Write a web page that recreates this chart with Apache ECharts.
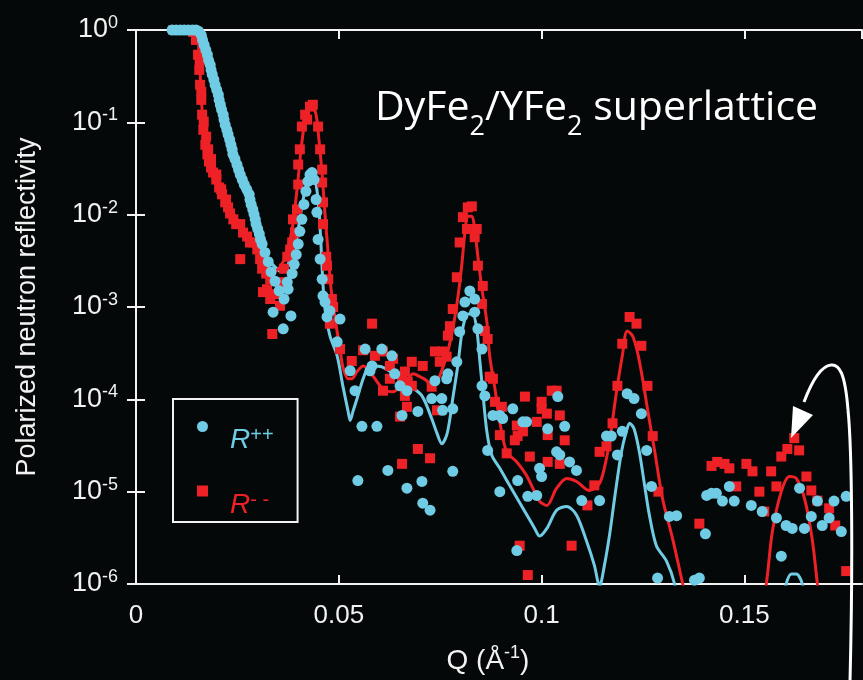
<!DOCTYPE html>
<html><head><meta charset="utf-8">
<script src="https://cdn.jsdelivr.net/npm/echarts@6/dist/echarts.min.js"></script>
<style>html,body{margin:0;padding:0;background:#050808;}#c{width:863px;height:680px;}</style>
</head><body><div id="c"></div>
<script>
// ---- data: R++ (circles) ----
const ppQ = [0.0089,0.0099,0.0109,0.0119,0.0129,0.0139,0.0148,0.0154,0.0161,0.0168,0.0176,0.0183,0.0188,0.0195,0.0203,0.0208,0.0215,0.0220,0.0227,0.0234,0.0239,0.0249,0.0257,0.0267,0.0279,0.0284,0.0291,0.0296,0.0304,0.0311,0.0318,0.0326,0.0333,0.0338,0.0343,0.0353,0.0363,0.0365,0.0373,0.0375,0.0382,0.0385,0.0390,0.0395,0.0400,0.0404,0.0409,0.0414,0.0419,0.0424,0.0429,0.0434,0.0439,0.0444,0.0446,0.0449,0.0454,0.0459,0.0461,0.0466,0.0471,0.0478,0.0496,0.0503,0.0528,0.0540,0.0547,0.0557,0.0565,0.0577,0.0582,0.0594,0.0606,0.0621,0.0631,0.0638,0.0651,0.0656,0.0668,0.0668,0.0695,0.0705,0.0707,0.0725,0.0729,0.0737,0.0754,0.0756,0.0766,0.0769,0.0781,0.0781,0.0791,0.0798,0.0806,0.0811,0.0823,0.0835,0.0835,0.0843,0.0853,0.0853,0.0860,0.0867,0.0880,0.0897,0.0897,0.0904,0.0929,0.0939,0.0941,0.0954,0.0963,0.0966,0.0988,0.0995,0.1000,0.1015,0.1037,0.1040,0.1045,0.1057,0.1069,0.1086,0.1099,0.1143,0.1160,0.1172,0.1187,0.1199,0.1211,0.1228,0.1246,0.1259,0.1271,0.1286,0.1315,0.1333,0.1377,0.1389,0.1404,0.1407,0.1419,0.1431,0.1446,0.1463,0.1475,0.1517,0.1544,0.1579,0.1591,0.1603,0.1618,0.1636,0.1648,0.1665,0.1680,0.1692,0.1709,0.1721,0.1739,0.1751,
  0.0164,0.0172,0.0179,0.0185,0.0192,0.0199,0.0205,0.0211,0.0217,0.0224,0.0231,0.0237,0.0244,0.0253,0.0262,0.0273,0.0281,0.0288,0.0294,0.0300,0.0307];
const ppR = [1,1,1,1,1,1,1,0.97,0.88,0.69,0.54,0.42,0.33,0.255,0.199,0.155,0.121,0.094,0.074,0.0574,0.045,0.0349,0.0272,0.0212,0.0166,0.0129,0.0101,0.0079,0.0062,0.0048,0.0039,0.0031,0.0024,0.00088,0.0019,0.0015,0.00058,0.00122,0.00186,0.00156,0.0008,0.0023,0.0029,0.0037,0.0048,0.0066,0.0089,0.0129,0.0179,0.0229,0.0272,0.0286,0.024,0.0146,0.0106,0.0054,0.0033,0.0020,0.00132,0.00113,0.00078,0.00091,0.00042,0.00074,0.000204,0.000124,1.32e-5,5.1e-5,0.00035,0.000204,0.00023,5.1e-5,0.00035,1.7e-5,0.000296,0.000189,0.00014,6.7e-5,1.09e-5,0.000124,7.4e-5,1.29e-5,7.5e-6,6.3e-6,0.000102,0.000159,0.000102,7.6e-5,0.000167,0.000189,7.9e-5,1.66e-5,0.000255,0.00054,0.0008,0.00113,0.00149,0.00122,0.00088,0.00058,0.00035,0.00014,0.000109,2.8e-5,6.7e-5,6.7e-5,1.0e-5,6.2e-5,7.9e-5,2.3e-6,1.32e-5,5.7e-5,5.7e-5,8.9e-6,9.1e-6,1.79e-5,1.46e-5,4.8e-5,2.7e-5,0.000107,2.5e-5,5.1e-5,2.1e-5,1.7e-5,8.0e-6,8.0e-6,4.0e-5,4.0e-5,2.5e-5,4.5e-5,0.000115,0.000102,7.0e-5,2.8e-5,1.14e-5,1.16e-6,5.4e-6,5.5e-6,1.1e-6,1.16e-6,3.5e-6,9.1e-6,9.6e-6,9.6e-6,7.9e-6,1.14e-5,7.9e-6,7.1e-6,6.1e-6,5.2e-6,2.0e-6,4.3e-6,4.0e-6,1.09e-5,4.0e-6,5.4e-6,7.9e-6,4.3e-6,5.2e-6,7.9e-6,3.7e-6,8.9e-6,
  0.78,0.61,0.47,0.37,0.29,0.225,0.175,0.137,0.107,0.083,0.065,0.051,0.040,0.0308,0.024,0.0188,0.0146,0.0114,0.0089,0.0070,0.0054];
// ---- data: R-- (squares) ----
const mmQ = [0.0092,0.0102,0.0112,0.0121,0.0131,0.0141,0.0148,0.0153,0.0156,0.0158,0.0161,0.0163,0.0166,0.0171,0.0176,0.0180,0.0185,0.0190,0.0198,0.0205,0.0212,0.0220,0.0227,0.0232,0.0240,0.0247,0.0257,0.0257,0.0264,0.0274,0.0281,0.0289,0.0299,0.0306,0.0311,0.0313,0.0321,0.0323,0.0331,0.0331,0.0336,0.0345,0.0355,0.0355,0.0365,0.0373,0.0380,0.0385,0.0387,0.0392,0.0397,0.0400,0.0400,0.0404,0.0409,0.0417,0.0422,0.0429,0.0436,0.0449,0.0454,0.0459,0.0459,0.0461,0.0461,0.0469,0.0471,0.0474,0.0478,0.0483,0.0486,0.0503,0.0532,0.0560,0.0582,0.0589,0.0609,0.0609,0.0626,0.0626,0.0634,0.0651,0.0656,0.0656,0.0663,0.0663,0.0668,0.0670,0.0680,0.0680,0.0695,0.0707,0.0725,0.0729,0.0737,0.0742,0.0749,0.0756,0.0766,0.0769,0.0774,0.0781,0.0791,0.0798,0.0806,0.0816,0.0818,0.0828,0.0835,0.0840,0.0843,0.0853,0.0855,0.0860,0.0867,0.0872,0.0880,0.0885,0.0897,0.0902,0.0914,0.0934,0.0939,0.0941,0.0946,0.0954,0.0959,0.0966,0.0971,0.0988,0.1000,0.1000,0.1013,0.1015,0.1015,0.1025,0.1037,0.1045,0.1045,0.1057,0.1074,0.1113,0.1130,0.1143,0.1160,0.1175,0.1187,0.1199,0.1217,0.1234,0.1246,0.1261,0.1274,0.1288,0.1389,0.1419,0.1433,0.1451,0.1463,0.1480,0.1505,0.1520,0.1537,0.1549,0.1566,0.1579,0.1591,0.1606,0.1623,0.1635,0.1653,0.1665,0.1680,0.1709,0.1724,0.1751,
  0.0157,0.0161,0.0167,0.0173,0.0178,0.0185,0.0198,0.0210,0.0222];
const mmR = [1,1,1,1,1,0.95,0.78,0.54,0.37,0.255,0.175,0.121,0.083,0.057,0.045,0.0376,0.0324,0.0286,0.024,0.0197,0.0166,0.0136,0.0120,0.0103,0.0089,0.0079,0.0079,0.0033,0.0064,0.0058,0.0050,0.0050,0.0042,0.0033,0.0026,0.00145,0.0023,0.00156,0.0020,0.00122,0.00051,0.00138,0.00186,0.00103,0.0026,0.0035,0.0042,0.0050,0.0089,0.0064,0.0114,0.0212,0.0349,0.051,0.090,0.121,0.107,0.148,0.155,0.090,0.051,0.0308,0.0223,0.0136,0.0079,0.0035,0.0028,0.0020,0.00066,0.00122,0.0010,0.00035,0.00026,0.00034,0.00066,0.000296,0.00033,0.000124,0.00023,0.000167,0.000275,6.5e-5,0.000167,2.0e-5,0.0002,0.000109,8.3e-5,0.000155,0.000255,0.00014,2.9e-5,0.00023,2.3e-5,0.000137,0.00033,7.6e-5,0.000255,0.00033,0.00029,0.00049,0.00062,0.00095,0.0021,0.0050,0.0094,0.0070,0.0120,0.0123,0.0057,0.0070,0.0028,0.00108,0.00169,0.00055,0.00045,0.000176,0.000167,9.4e-5,4.1e-5,8.3e-5,2.6e-5,3.6e-5,5.2e-5,4.0e-5,2.6e-6,4.5e-5,0.000107,1.25e-6,2.4e-5,5.7e-5,9.4e-5,7.9e-5,7.0e-5,4.1e-5,2.1e-5,0.000124,0.000124,6.7e-5,2.0e-5,3.6e-5,2.6e-6,7.1e-6,1.17e-5,2.7e-5,3.1e-5,5.5e-5,0.00014,0.0004,0.00078,0.00066,0.00038,0.00014,4.0e-5,1.0e-5,4.5e-6,1.9e-5,2.1e-5,2.0e-5,1.79e-5,1.14e-5,2.0e-5,1.66e-5,1.0e-5,6.1e-6,1.66e-5,1.14e-5,2.4e-5,2.9e-5,3.8e-5,2.8e-5,1.46e-5,1.03e-5,8.0e-6,6.6e-6,4.3e-6,1.38e-6,
  0.47,0.214,0.102,0.070,0.051,0.040,0.0272,0.0188,0.0146];
// ---- fitted curves ----
const fitPPQ = [0.0097,0.0156,0.0176,0.0195,0.0210,0.0230,0.0252,0.0276,0.0289,0.0304,0.0318,0.0343,0.0360,0.0375,0.0390,0.0402,0.0412,0.0422,0.0429,0.0436,0.0444,0.0451,0.0456,0.0461,0.0466,0.0478,0.0496,0.0510,0.0523,0.0528,0.0535,0.0545,0.0560,0.0572,0.0584,0.0606,0.0643,0.0675,0.0705,0.0729,0.0742,0.0754,0.0766,0.0774,0.0781,0.0793,0.0803,0.0811,0.0818,0.0830,0.0840,0.0848,0.0855,0.0865,0.0877,0.0897,0.0921,0.0954,0.0983,0.0995,0.1013,0.1037,0.1062,0.1086,0.1111,0.1130,0.1143,0.1155,0.1168,0.1180,0.1197,0.1209,0.1217,0.1228,0.1241,0.1254,0.1266,0.1283,0.1308,0.1328,0.1340,0.1500,0.1586,0.1603,0.1616,0.1628,0.1643,0.1655,0.1790];
const fitPPR = [1.0,1.0,0.54,0.255,0.137,0.065,0.0324,0.0179,0.0109,0.0060,0.0037,0.0027,0.0024,0.0029,0.0042,0.0079,0.0146,0.0212,0.0253,0.0265,0.0212,0.0114,0.0048,0.00177,0.00095,0.00049,0.000296,0.00014,7.4e-5,5.9e-5,7.4e-5,0.000102,0.000167,0.00022,0.00023,0.000225,0.00018,0.00014,0.000109,6.2e-5,4.3e-5,3.3e-5,4.1e-5,6.2e-5,0.000102,0.000225,0.00051,0.00074,0.00084,0.00084,0.00058,0.000255,0.000121,4.5e-5,2.5e-5,1.79e-5,1.17e-5,6.6e-6,4.0e-6,3.3e-6,4.0e-6,6.3e-6,6.9e-6,5.6e-6,2.9e-6,1.6e-6,0.95e-6,1.6e-6,3.5e-6,8.5e-6,2.7e-5,4.5e-5,5.5e-5,4.8e-5,2.7e-5,1.17e-5,5.5e-6,2.6e-6,1.77e-6,1.0e-6,4.3e-7,1e-8,4.3e-7,1.0e-6,1.28e-6,1.28e-6,1.0e-6,4.3e-7,1e-8];
const fitMMQ = [0.0097,0.0146,0.0156,0.0163,0.0171,0.0183,0.0203,0.0227,0.0257,0.0281,0.0301,0.0313,0.0326,0.0338,0.0355,0.0370,0.0385,0.0397,0.0407,0.0417,0.0427,0.0434,0.0444,0.0451,0.0459,0.0466,0.0474,0.0481,0.0491,0.0503,0.0510,0.0523,0.0532,0.0545,0.0560,0.0572,0.0584,0.0609,0.0634,0.0651,0.0668,0.0683,0.0700,0.0717,0.0729,0.0739,0.0749,0.0766,0.0781,0.0793,0.0803,0.0811,0.0818,0.0828,0.0835,0.0843,0.0853,0.0865,0.0872,0.0885,0.0897,0.0914,0.0939,0.0963,0.0995,0.1013,0.1037,0.1062,0.1086,0.1118,0.1143,0.1160,0.1172,0.1184,0.1199,0.1211,0.1224,0.1236,0.1249,0.1261,0.1278,0.1298,0.1323,0.1348,0.1366,0.1480,0.1537,0.1554,0.1569,0.1591,0.1611,0.1628,0.1648,0.1667,0.1680,0.1689,0.1790];
const fitMMR = [1.0,1.0,0.47,0.137,0.065,0.040,0.024,0.0129,0.0079,0.0054,0.0042,0.0033,0.0027,0.0024,0.0027,0.0037,0.0070,0.0188,0.051,0.107,0.144,0.151,0.121,0.065,0.0272,0.0101,0.0037,0.00156,0.00074,0.00035,0.000225,0.000167,0.000167,0.0002,0.00023,0.000214,0.00018,0.00013,0.000121,0.000137,0.000159,0.000189,0.000176,0.000159,0.00014,0.000146,0.00018,0.000296,0.00058,0.00122,0.0028,0.0064,0.0096,0.0096,0.0070,0.0035,0.00156,0.00069,0.000296,0.00013,5.7e-5,2.7e-5,2.1e-5,1.5e-5,7.9e-6,7.1e-6,1.09e-5,1.39e-5,1.29e-5,1.03e-5,1.23e-5,2.3e-5,4.8e-5,0.000115,0.000296,0.00055,0.00049,0.00033,0.000167,7.9e-5,2.9e-5,8.5e-6,3.1e-6,1.0e-6,4.3e-7,1e-8,4.3e-7,1.0e-6,3.7e-6,1.0e-5,1.46e-5,1.39e-5,8.5e-6,3.1e-6,1.0e-6,4.3e-7,1e-8];
// ---- axis ticks ----
const xTicks = [0, 0.05, 0.1, 0.15];
const yMin = 1e-6, yMax = 1;

const BLUE = '#6fcce4', RED = '#ee2126', WHITE = '#f2f2f2', BG = '#050808';
const FONT = '"Liberation Sans", Arial, sans-serif';
const TF = '"Open Sans", sans-serif';
const zip = (a, b) => a.map((v, i) => [v, b[i]]);

const chart = echarts.init(document.getElementById('c'), null, {renderer: 'canvas'});
const axisLine = {show: true, lineStyle: {color: WHITE, width: 2}};
const axisTick = {show: true, inside: true, length: 9, lineStyle: {color: WHITE, width: 2}};
const yRich = {
  b: {fontSize: 27, color: WHITE, fontFamily: FONT, lineHeight: 32},
  s: {fontSize: 18, color: WHITE, fontFamily: FONT, verticalAlign: 'top', lineHeight: 18}
};

chart.setOption({
  backgroundColor: BG,
  animation: false,
  grid: {left: 136, top: 30, right: 1, bottom: 94, containLabel: false},
  title: {
    text: '{a|DyFe}{b|2}{a|/YFe}{b|2}{a| superlattice}',
    left: 370, top: 78,
    textStyle: {
      fontWeight: 'normal',
      rich: {
        a: {fontSize: 41, color: '#ffffff', fontFamily: TF, fontWeight: 'normal', lineHeight: 50},
        b: {fontSize: 27, color: '#ffffff', fontFamily: TF, fontWeight: 'normal', verticalAlign: 'bottom', lineHeight: 27, padding: [0, 0, -8, 0]}
      }
    }
  },
  legend: {
    orient: 'vertical', left: 173, top: 399,
    padding: [22, 24, 3, 24],
    borderColor: WHITE, borderWidth: 2,
    itemWidth: 11, itemHeight: 11, itemGap: 31,
    data: [{name: 'R++', icon: 'circle'}, {name: 'R--', icon: 'rect'}],
    formatter: n => n === 'R++' ? '{rb|R}{sb|++}' : '{rr|R}{sr|- -}',
    textStyle: {
      padding: [28, 0, 0, 17],
      rich: {
        rb: {color: BLUE, fontSize: 28, fontStyle: 'italic', fontFamily: FONT, lineHeight: 30},
        sb: {color: BLUE, fontSize: 20, fontFamily: FONT, verticalAlign: 'top', lineHeight: 18},
        rr: {color: RED, fontSize: 28, fontStyle: 'italic', fontFamily: FONT, lineHeight: 30},
        sr: {color: RED, fontSize: 20, fontFamily: FONT, verticalAlign: 'top', lineHeight: 18}
      }
    }
  },
  xAxis: [{
    type: 'value', min: 0, max: 0.179, interval: 0.05, position: 'bottom',
    axisLine, axisTick, splitLine: {show: false},
    axisLabel: {color: WHITE, fontSize: 26, fontFamily: FONT, margin: 19, showMaxLabel: false,
      formatter: v => xTicks.some(t => Math.abs(t - v) < 1e-9) ? String(+v.toFixed(2)) : ''},
    name: '{n|Q (Å}{s|-1}{n|)}', nameLocation: 'middle', nameGap: 60,
    nameTextStyle: {padding: [0, 22, 0, 0], rich: {
      n: {fontSize: 28, color: WHITE, fontFamily: FONT, lineHeight: 34},
      s: {fontSize: 18, color: WHITE, fontFamily: FONT, verticalAlign: 'top', lineHeight: 18}
    }}
  }, {
    type: 'value', min: 0, max: 0.179, interval: 0.05, position: 'top',
    axisLine, axisTick, axisLabel: {show: false}, splitLine: {show: false}
  }],
  yAxis: [{
    type: 'log', logBase: 10, min: yMin, max: yMax, position: 'left',
    axisLine, axisTick, splitLine: {show: false}, minorTick: {show: false},
    axisLabel: {margin: 18, formatter: v => '{b|10}{s|' + Math.round(Math.log10(v)) + '}', rich: yRich},
    name: 'Polarized neutron reflectivity', nameLocation: 'middle', nameGap: 95,
    nameTextStyle: {color: WHITE, fontSize: 27, fontFamily: FONT}
  }, {
    type: 'log', logBase: 10, min: yMin, max: yMax, position: 'right',
    axisLine, axisTick, axisLabel: {show: false}, splitLine: {show: false}
  }],
  series: [
    {name: 'fit++', type: 'line', data: zip(fitPPQ, fitPPR), showSymbol: false, smooth: 0.3,
      lineStyle: {color: BLUE, width: 3}, itemStyle: {color: BLUE}, clip: true, z: 2},
    {name: 'fit--', type: 'line', data: zip(fitMMQ, fitMMR), showSymbol: false, smooth: 0.3,
      lineStyle: {color: RED, width: 3}, itemStyle: {color: RED}, clip: true, z: 2},
    {name: 'R--', type: 'scatter', data: zip(mmQ, mmR), symbol: 'rect', symbolSize: 10,
      itemStyle: {color: RED, opacity: 1}, clip: true, z: 3},
    {name: 'R++', type: 'scatter', data: zip(ppQ, ppR), symbol: 'circle', symbolSize: 11,
      itemStyle: {color: BLUE, opacity: 1}, clip: true, z: 4}
  ],
  graphic: [
    {type: 'bezierCurve', shape: {x1: 850, y1: 682, cpx1: 853, cpy1: 560, cpx2: 852, cpy2: 450, x2: 848, y2: 410},
      style: {stroke: '#ffffff', lineWidth: 3, fill: null}, z: 10},
    {type: 'bezierCurve', shape: {x1: 848, y1: 410, cpx1: 845, cpy1: 372, cpx2: 839, cpy2: 364, x2: 831, y2: 365},
      style: {stroke: '#ffffff', lineWidth: 3, fill: null}, z: 10},
    {type: 'bezierCurve', shape: {x1: 831, y1: 365, cpx1: 822, cpy1: 366, cpx2: 813, cpy2: 378, x2: 804, y2: 402},
      style: {stroke: '#ffffff', lineWidth: 3, fill: null}, z: 10},
    {type: 'polygon', shape: {points: [[793, 406], [813, 415], [791, 438]]},
      style: {fill: '#ffffff'}, z: 10}
  ]
});
</script></body></html>
